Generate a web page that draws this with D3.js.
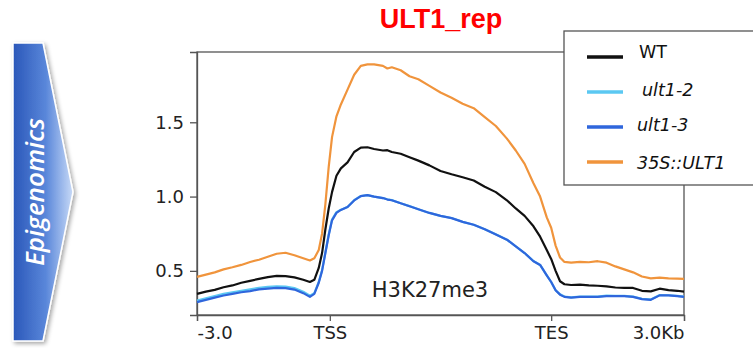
<!DOCTYPE html>
<html><head><meta charset="utf-8">
<script src="https://cdn.jsdelivr.net/npm/d3@7"></script>
<style>html,body{margin:0;padding:0;background:#fff;overflow:hidden}svg{display:block}</style>
</head><body>
<svg id="chart" width="753" height="348"></svg>
<script>
// ---------------- data ----------------
const title = "ULT1_rep";
const sideLabel = "Epigenomics";
const markLabel = "H3K27me3";
const seriesNames = ["WT", "ult1-2", "ult1-3", "35S::ULT1"];
const seriesItalic = [false, true, true, true];
const seriesColors = ["#111111", "#5bc8f2", "#2f66dc", "#f0943c"];
const xTickPos = [0, 60, 160, 220];            // bins: 60 upstream, 100 body, 60 downstream
const xTickLabels = ["-3.0", "TSS", "TES", "3.0Kb"];
const yTicks = [0.5, 1.0, 1.5];
const bins = [0,4,8,12,16,20,24,28,32,36,40,44,48,51,53,55,56.5,58,59.5,61,63,65,68,71,74,77,80,84,86,88,92,96,100,105,110,115,120,125,130,135,140,144,148,152,155,158,160,162,164,166,169,173,177,181,185,189,193,197,201,205,209,213,217,220];
const wt = [0.345,0.36,0.372,0.39,0.402,0.42,0.433,0.446,0.458,0.466,0.465,0.456,0.44,0.425,0.44,0.52,0.62,0.78,0.92,1.03,1.14,1.19,1.23,1.30,1.33,1.332,1.32,1.31,1.312,1.30,1.288,1.265,1.242,1.21,1.172,1.15,1.13,1.108,1.066,1.03,0.975,0.92,0.87,0.80,0.73,0.64,0.58,0.50,0.43,0.41,0.405,0.407,0.402,0.40,0.396,0.388,0.386,0.385,0.366,0.362,0.38,0.37,0.366,0.36];
const ult12 = [0.30,0.315,0.33,0.345,0.356,0.366,0.376,0.386,0.392,0.396,0.394,0.384,0.36,0.333,0.35,0.425,0.505,0.625,0.745,0.845,0.895,0.912,0.93,0.975,1.004,1.01,1.0,0.99,0.982,0.976,0.955,0.936,0.915,0.89,0.87,0.856,0.83,0.81,0.78,0.746,0.71,0.665,0.62,0.566,0.54,0.47,0.425,0.37,0.342,0.327,0.322,0.327,0.327,0.327,0.333,0.332,0.332,0.327,0.312,0.308,0.337,0.336,0.332,0.327];
const ult13 = [0.29,0.305,0.32,0.334,0.345,0.356,0.364,0.375,0.38,0.386,0.384,0.374,0.35,0.325,0.345,0.42,0.50,0.62,0.74,0.84,0.89,0.91,0.93,0.974,1.003,1.01,1.0,0.99,0.98,0.975,0.955,0.935,0.915,0.89,0.87,0.855,0.83,0.81,0.78,0.745,0.71,0.665,0.62,0.565,0.54,0.47,0.425,0.37,0.34,0.325,0.32,0.325,0.325,0.325,0.33,0.33,0.33,0.325,0.31,0.305,0.335,0.335,0.33,0.325];
const oe = [0.46,0.475,0.49,0.51,0.524,0.54,0.56,0.575,0.595,0.615,0.622,0.605,0.585,0.57,0.585,0.64,0.75,0.95,1.2,1.40,1.54,1.62,1.72,1.82,1.88,1.89,1.89,1.88,1.862,1.87,1.85,1.81,1.79,1.745,1.70,1.665,1.625,1.595,1.535,1.475,1.39,1.31,1.22,1.09,1.0,0.86,0.79,0.67,0.59,0.56,0.555,0.56,0.558,0.565,0.555,0.53,0.51,0.49,0.462,0.45,0.455,0.45,0.448,0.446];
const seriesValues = [wt, ult12, ult13, oe];
const drawOrder = [3, 0, 1, 2];

// ---------------- layout ----------------
const svg = d3.select("#chart");
const plot = {left: 197, right: 684, top: 52, bottom: 315};
const x = d3.scaleLinear().domain([0, 220]).range([plot.left, plot.right]);
const y = d3.scaleLinear().domain([0.203, 1.973]).range([plot.bottom, plot.top]);

// side arrow
const defs = svg.append("defs");
const grad = defs.append("linearGradient").attr("id", "arrowGrad")
  .attr("x1", "0%").attr("x2", "100%").attr("y1", "0%").attr("y2", "0%");
grad.append("stop").attr("offset", "0%").attr("stop-color", "#2a57b9");
grad.append("stop").attr("offset", "55%").attr("stop-color", "#5a87da");
grad.append("stop").attr("offset", "100%").attr("stop-color", "#c8daf7");
const shadow = defs.append("filter").attr("id", "shadow").attr("x", "-30%").attr("y", "-10%").attr("width", "160%").attr("height", "120%");
shadow.append("feDropShadow").attr("dx", 2).attr("dy", 2).attr("stdDeviation", 2).attr("flood-color", "#000").attr("flood-opacity", 0.35);
svg.append("polygon")
  .attr("points", "13,43 43,43 73,192 43,341 13,341")
  .attr("fill", "url(#arrowGrad)").attr("stroke", "#fff").attr("stroke-width", 1.5)
  .attr("filter", "url(#shadow)");
svg.append("text")
  .attr("transform", "translate(44,192) rotate(-90)")
  .attr("text-anchor", "middle")
  .attr("font-family", "'Open Sans', sans-serif").attr("font-style", "italic").attr("font-weight", 600)
  .attr("font-size", 26).attr("fill", "#fff").text(sideLabel);

// title
svg.append("text").attr("x", 441).attr("y", 28).attr("text-anchor", "middle")
  .attr("font-family", "'Liberation Sans', Arial, sans-serif").attr("font-weight", "bold")
  .attr("font-size", 27).attr("fill", "#ff0000").text(title);

// frame
svg.append("rect").attr("x", plot.left).attr("y", plot.top)
  .attr("width", plot.right - plot.left).attr("height", plot.bottom - plot.top)
  .attr("fill", "none").attr("stroke", "#555").attr("stroke-width", 1.3);

// axes
const yAxis = d3.axisLeft(y).tickValues(yTicks).tickFormat(d3.format(".1f")).tickSize(7).tickPadding(6);
const gy = svg.append("g").attr("transform", `translate(${plot.left},0)`).call(yAxis);
const xAxis = d3.axisBottom(x).tickValues(xTickPos).tickFormat((d, i) => xTickLabels[i]).tickSize(6).tickPadding(5);
const gx = svg.append("g").attr("transform", `translate(0,${plot.bottom})`).call(xAxis);
[gx, gy].forEach(g => {
  g.select(".domain").attr("stroke", "#555").attr("stroke-width", 1.3);
  g.selectAll(".tick line").attr("stroke", "#555").attr("stroke-width", 1.3);
  g.selectAll(".tick text").attr("font-family", "'DejaVu Sans', sans-serif").attr("font-size", 18).attr("fill", "#222");
});
gx.selectAll(".tick text").attr("text-anchor", (d, i) => i === 0 ? "start" : (i === xTickPos.length - 1 ? "end" : "middle"));

// curves
const line = d3.line().x((d, i) => x(bins[i])).y(d => y(d));
drawOrder.forEach(k => {
  svg.append("path").datum(seriesValues[k])
    .attr("d", line).attr("fill", "none")
    .attr("stroke", seriesColors[k]).attr("stroke-width", 2.2)
    .attr("stroke-linejoin", "round");
});

// mark label
svg.append("text").attr("x", 430).attr("y", 297).attr("text-anchor", "middle")
  .attr("font-family", "'DejaVu Sans', sans-serif").attr("font-size", 21).attr("fill", "#222").text(markLabel);

// legend
const lg = svg.append("g");
lg.append("rect").attr("x", 564).attr("y", 31).attr("width", 200).attr("height", 154)
  .attr("fill", "#fff").attr("stroke", "#555").attr("stroke-width", 1.3);
const legY = [57, 92, 127, 162];
const legTx = [639, 642, 637, 637];
const legTy = [58, 96, 131, 169];
seriesNames.forEach((n, i) => {
  lg.append("line").attr("x1", 587).attr("x2", 623).attr("y1", legY[i]).attr("y2", legY[i])
    .attr("stroke", seriesColors[i]).attr("stroke-width", 3.5);
  lg.append("text").attr("x", legTx[i]).attr("y", legTy[i])
    .attr("font-family", "'DejaVu Sans', sans-serif").attr("font-size", 17.5)
    .attr("font-style", seriesItalic[i] ? "italic" : "normal").attr("fill", "#111").text(n);
});
</script>
</body></html>
